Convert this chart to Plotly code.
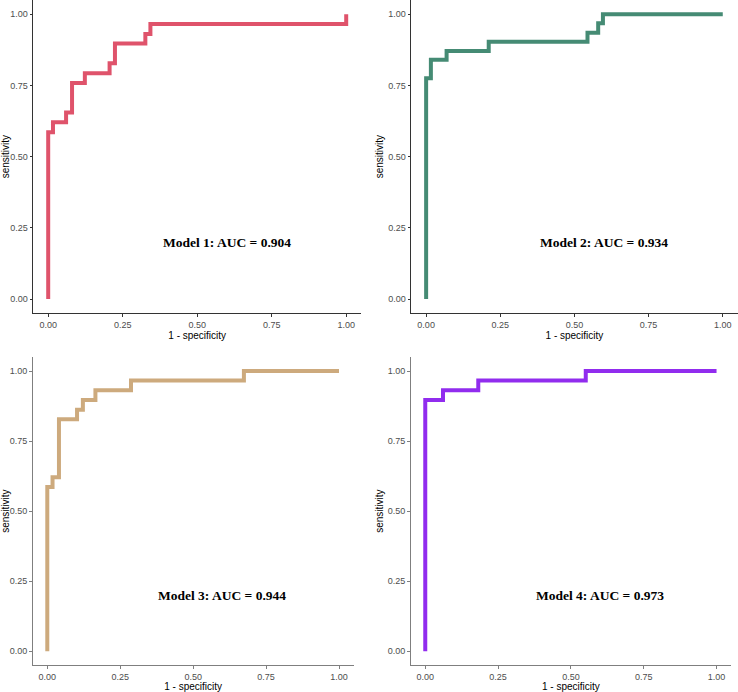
import plotly.graph_objects as go

# ROC step curves (1 - specificity, sensitivity)
m1_fpr = [0.0, 0.0, 0.016, 0.016, 0.06, 0.06, 0.08, 0.08, 0.123, 0.123, 0.206, 0.206,
          0.224, 0.224, 0.326, 0.326, 0.343, 0.343, 1.0, 1.0]
m1_tpr = [0.0, 0.586, 0.586, 0.621, 0.621, 0.655, 0.655, 0.759, 0.759, 0.793, 0.793, 0.828,
          0.828, 0.897, 0.897, 0.931, 0.931, 0.966, 0.966, 1.0]

m2_fpr = [0.0, 0.0, 0.016, 0.016, 0.069, 0.069, 0.211, 0.211, 0.544, 0.544, 0.58, 0.58,
          0.596, 0.596, 1.0]
m2_tpr = [0.0, 0.775, 0.775, 0.84, 0.84, 0.871, 0.871, 0.903, 0.903, 0.935, 0.935, 0.968,
          0.968, 1.0, 1.0]

m3_fpr = [0.0, 0.0, 0.018, 0.018, 0.04, 0.04, 0.102, 0.102, 0.122, 0.122, 0.165, 0.165,
          0.287, 0.287, 0.674, 0.674, 1.0]
m3_tpr = [0.0, 0.586, 0.586, 0.621, 0.621, 0.828, 0.828, 0.862, 0.862, 0.897, 0.897, 0.931,
          0.931, 0.966, 0.966, 1.0, 1.0]

m4_fpr = [0.0, 0.0, 0.061, 0.061, 0.182, 0.182, 0.551, 0.551, 1.0]
m4_tpr = [0.0, 0.897, 0.897, 0.931, 0.931, 0.966, 0.966, 1.0, 1.0]

labels = ["Model 1: AUC = 0.904", "Model 2: AUC = 0.934",
          "Model 3: AUC = 0.944", "Model 4: AUC = 0.973"]
colors = ["#DF536B", "#458B74", "#CDAA7D", "#912CEE"]
tick_vals = [0, 0.25, 0.5, 0.75, 1.0]
tick_text = ["0.00", "0.25", "0.50", "0.75", "1.00"]

W, H = 738, 692

# panel boxes in pixels: left, right, top, bottom
boxes = [
    (33.3, 361.1, 0.0, 313.3),
    (411.3, 737.6, 0.0, 313.3),
    (32.7, 353.6, 357.0, 665.3),
    (410.7, 731.1, 357.0, 665.3),
]
curves = [(m1_fpr, m1_tpr), (m2_fpr, m2_tpr), (m3_fpr, m3_tpr), (m4_fpr, m4_tpr)]

fig = go.Figure()
layout = {}
for i, ((x, y), (l, r, t, b)) in enumerate(zip(curves, boxes)):
    n = "" if i == 0 else str(i + 1)
    fig.add_trace(go.Scatter(
        x=x, y=y, mode="lines",
        line=dict(color=colors[i], width=4),
        xaxis="x" + n, yaxis="y" + n, showlegend=False, cliponaxis=False,
    ))
    axis_line = "#333333" if i < 2 else "#7F7F7F"
    common = dict(
        range=[-0.05, 1.05], tickvals=tick_vals, ticktext=tick_text, automargin=False,
        showgrid=False, zeroline=False, showline=True, linecolor=axis_line, linewidth=1.2,
        ticks="outside", ticklen=2.5, tickcolor=axis_line,
        tickfont=dict(family="Liberation Sans", size=9, color="#4D4D4D"),
    )
    layout["xaxis" + n] = dict(
        common, domain=[l / W, r / W], anchor="y" + n,
        title=dict(text="1 - specificity", standoff=1,
                   font=dict(family="Liberation Sans", size=10, color="#000000")),
    )
    layout["yaxis" + n] = dict(
        common, domain=[1 - b / H, 1 - t / H], anchor="x" + n,
        title=dict(text="sensitivity", standoff=2,
                   font=dict(family="Liberation Sans", size=10, color="#000000")),
    )
    fig.add_annotation(
        x=0.6, y=0.2, xref="x" + n, yref="y" + n, text="<b>" + labels[i] + "</b>",
        showarrow=False,
        font=dict(family="Liberation Serif", size=13.5, color="#000000"),
    )

fig.update_layout(
    **layout,
    width=W, height=H,
    margin=dict(l=0, r=0, t=0, b=0),
    paper_bgcolor="white", plot_bgcolor="white",
)

# drop the browser's default 8px body margin so the figure fills the window
fig.write_html("out.html", config={"displayModeBar": False},
               post_script="document.body.style.margin='0';")
